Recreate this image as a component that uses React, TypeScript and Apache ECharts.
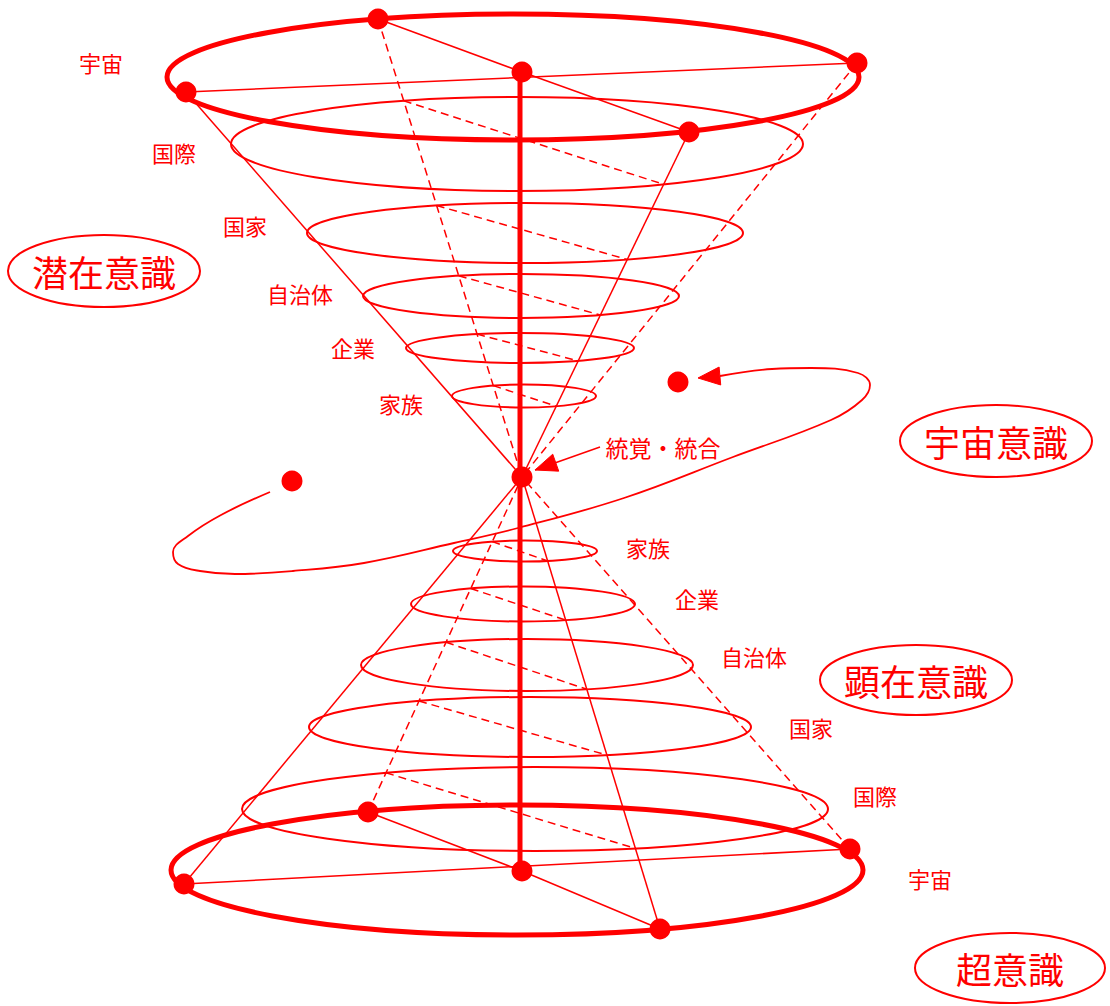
import React, { useEffect, useRef } from 'react';
import * as echarts from 'echarts';

const RED = '#ff0000';
const FONT = '"Noto Sans CJK JP", "Noto Sans CJK SC", sans-serif';

// ---- geometry data (in page pixels) ----
const apex = [522, 477];
const topCenter = [522, 72];
const bottomCenter = [522, 871];
const axisX = 520;

// big rims: [cx, cy, rx, ry]
const topRim = [513, 77, 346, 63];
const bottomRim = [517, 870, 346, 65];

// points on rims
const topLeft = [186, 92];
const topBack = [378, 19];
const topRight = [857, 63];
const topFront = [689, 132];
const bottomLeft = [184, 884];
const bottomBack = [368, 812];
const bottomRight = [850, 849];
const bottomFront = [660, 929];

// level rings [cx, cy, rx, ry] (家族 → 国際)
const ringNames = ['家族', '企業', '自治体', '国家', '国際'];
const upperRings = [
  [524, 396, 72, 11.5],
  [520, 348, 114, 15],
  [521, 296, 158, 22],
  [525, 233, 218, 30],
  [517, 144, 286, 47],
];
const lowerRings = [
  [525, 551, 72, 10.5],
  [523, 604, 112, 17.5],
  [527, 665, 166, 26],
  [530, 727, 221, 30],
  [535, 809, 293, 42],
];

// level labels (宇宙 + rings)
const upperLabelNames = ['宇宙', '国際', '国家', '自治体', '企業', '家族'];
const upperLabelPos = [[101, 62], [174, 152], [245, 225], [300, 293], [353, 347], [401, 403]];
const lowerLabelNames = ['家族', '企業', '自治体', '国家', '国際', '宇宙'];
const lowerLabelPos = [[648, 547], [697, 598], [754, 656], [811, 727], [875, 795], [930, 878]];

// oval captions
const ovalNames = ['潜在意識', '宇宙意識', '顕在意識', '超意識'];
const ovalShapes = [
  [104, 271, 96, 36],
  [996, 441, 96, 36],
  [916, 680, 96, 35],
  [1010, 968, 95, 35],
];

// orbit curve waypoints (from left dot round to arrow)
const orbitPoints = [
  [270, 492], [221, 515], [188, 536], [173, 552], [178, 564], [200, 571],
  [235, 574], [293, 571], [364, 563], [454, 543], [518, 528], [624, 498],
  [733, 457], [831, 420], [862, 400], [870, 385], [858, 373], [811, 368],
  [772, 369], [720, 376],
];
const orbitArrowTip = [698, 378];
const orbitArrowFrom = [720, 376];
const orbitDots = [[292, 481], [678, 382]];

// 統覚・統合 pointer
const pointerLabel = '統覚・統合';
const pointerLabelPos = [663, 447];
const pointerTail = [600, 447];
const pointerTip = [535, 470];

// ---- helpers ----
function lineEllipse(from: number[], to: number[], ring: number[], pickSmallerY: boolean) {
  const [cx, cy, rx, ry] = ring;
  const dx = to[0] - from[0];
  const dy = to[1] - from[1];
  const ox = from[0] - cx;
  const oy = from[1] - cy;
  const A = (dx * dx) / (rx * rx) + (dy * dy) / (ry * ry);
  const B = 2 * ((ox * dx) / (rx * rx) + (oy * dy) / (ry * ry));
  const C = (ox * ox) / (rx * rx) + (oy * oy) / (ry * ry) - 1;
  let disc = B * B - 4 * A * C;
  if (disc < 0) disc = 0;
  const s1 = (-B - Math.sqrt(disc)) / (2 * A);
  const s2 = (-B + Math.sqrt(disc)) / (2 * A);
  const p1 = [from[0] + s1 * dx, from[1] + s1 * dy];
  const p2 = [from[0] + s2 * dx, from[1] + s2 * dy];
  if (pickSmallerY) return p1[1] < p2[1] ? p1 : p2;
  return p1[1] > p2[1] ? p1 : p2;
}

export default function App() {
  const ref = useRef<HTMLDivElement>(null);

  useEffect(() => {
    if (!ref.current) return;
    const chart = echarts.init(ref.current, undefined, { renderer: 'svg' });

    // ellipses: [cx, cy, rx, ry, lineWidth]
    const ellipses: number[][] = [];
    ellipses.push([...topRim, 5]);
    ellipses.push([...bottomRim, 5]);
    upperRings.forEach((r) => ellipses.push([...r, 2]));
    lowerRings.forEach((r) => ellipses.push([...r, 2]));
    ovalShapes.forEach((r) => ellipses.push([...r, 2]));

    // segments: [x1, y1, x2, y2, dashed, width]
    const segs: number[][] = [];
    const seg = (a: number[], b: number[], dashed: number, w: number) =>
      segs.push([a[0], a[1], b[0], b[1], dashed, w]);
    seg(topLeft, apex, 0, 1.5);
    seg(topFront, apex, 0, 1.5);
    seg(topBack, apex, 1, 1.5);
    seg(topRight, apex, 1, 1.5);
    seg(topLeft, topRight, 0, 1.5);
    seg(topBack, topCenter, 0, 1.5);
    seg(topCenter, topFront, 0, 1.5);
    seg(bottomLeft, apex, 0, 1.5);
    seg(bottomFront, apex, 0, 1.5);
    seg(bottomBack, apex, 1, 1.5);
    seg(bottomRight, apex, 1, 1.5);
    seg(bottomLeft, bottomRight, 0, 1.5);
    seg(bottomBack, bottomCenter, 0, 1.5);
    seg(bottomCenter, bottomFront, 0, 1.5);
    upperRings.forEach((r) => {
      const b = lineEllipse(apex, topBack, r, true);
      const f = lineEllipse(apex, topFront, r, false);
      seg(b, f, 1, 1.5);
    });
    lowerRings.forEach((r) => {
      const b = lineEllipse(apex, bottomBack, r, true);
      const f = lineEllipse(apex, bottomFront, r, false);
      seg(b, f, 1, 1.5);
    });
    seg(pointerTail, pointerTip, 0, 1.5);
    seg([axisX, topCenter[1]], [axisX, bottomCenter[1]], 0, 5);

    // texts
    const texts: { text: string; pos: number[]; size: number }[] = [];
    upperLabelNames.forEach((t, i) => texts.push({ text: t, pos: upperLabelPos[i], size: 22 }));
    lowerLabelNames.forEach((t, i) => texts.push({ text: t, pos: lowerLabelPos[i], size: 22 }));
    ovalNames.forEach((t, i) => texts.push({ text: t, pos: [ovalShapes[i][0], ovalShapes[i][1]], size: 36 }));
    texts.push({ text: pointerLabel, pos: pointerLabelPos, size: 23 });

    // arrows: [tipX, tipY, fromX, fromY]
    const arrows = [
      [orbitArrowTip[0], orbitArrowTip[1], orbitArrowFrom[0], orbitArrowFrom[1]],
      [pointerTip[0], pointerTip[1], pointerTail[0], pointerTail[1]],
    ];

    const dots = [topLeft, topBack, topRight, topFront, topCenter, apex,
      bottomLeft, bottomBack, bottomRight, bottomFront, bottomCenter, ...orbitDots];

    const option: any = {
      animation: false,
      backgroundColor: '#ffffff',
      grid: { left: 0, right: 0, top: 0, bottom: 0 },
      xAxis: { type: 'value', min: 0, max: 1110, show: false },
      yAxis: { type: 'value', min: 0, max: 1006, inverse: true, show: false },
      series: [
        {
          type: 'custom',
          clip: false,
          z: 2,
          data: ellipses,
          renderItem: (params: any, api: any) => {
            const c = api.coord([api.value(0), api.value(1)]);
            const s = api.size([api.value(2), api.value(3)]);
            return {
              type: 'ellipse',
              shape: { cx: c[0], cy: c[1], rx: Math.abs(s[0]), ry: Math.abs(s[1]) },
              style: { fill: 'none', stroke: RED, lineWidth: api.value(4) },
            };
          },
        },
        {
          type: 'custom',
          clip: false,
          z: 3,
          data: segs,
          renderItem: (params: any, api: any) => {
            const a = api.coord([api.value(0), api.value(1)]);
            const b = api.coord([api.value(2), api.value(3)]);
            return {
              type: 'line',
              shape: { x1: a[0], y1: a[1], x2: b[0], y2: b[1] },
              style: {
                stroke: RED,
                lineWidth: api.value(5),
                lineDash: api.value(4) ? [8, 5] : null,
                fill: 'none',
              },
            };
          },
        },
        {
          type: 'line',
          z: 3,
          data: orbitPoints,
          smooth: 0.4,
          symbol: 'none',
          lineStyle: { color: RED, width: 1.8, opacity: 1 },
        },
        {
          type: 'custom',
          clip: false,
          z: 4,
          data: arrows,
          renderItem: (params: any, api: any) => {
            const t = api.coord([api.value(0), api.value(1)]);
            const f = api.coord([api.value(2), api.value(3)]);
            const dx = f[0] - t[0];
            const dy = f[1] - t[1];
            const L = Math.hypot(dx, dy) || 1;
            const ux = dx / L;
            const uy = dy / L;
            const len = 22;
            const hw = 9;
            const bx = t[0] + ux * len;
            const by = t[1] + uy * len;
            return {
              type: 'polygon',
              shape: {
                points: [
                  [t[0], t[1]],
                  [bx - uy * hw, by + ux * hw],
                  [bx + uy * hw, by - ux * hw],
                ],
              },
              style: { fill: RED, stroke: RED, lineWidth: 1 },
            };
          },
        },
        {
          type: 'scatter',
          z: 5,
          data: dots,
          symbol: 'circle',
          symbolSize: 21,
          itemStyle: { color: RED, opacity: 1 },
        },
        {
          type: 'custom',
          clip: false,
          z: 6,
          data: texts.map((t) => t.pos),
          renderItem: (params: any, api: any) => {
            const p = api.coord([api.value(0), api.value(1)]);
            const item = texts[params.dataIndex];
            return {
              type: 'text',
              x: p[0],
              y: p[1],
              style: {
                text: item.text,
                fill: RED,
                fontSize: item.size,
                fontFamily: FONT,
                align: 'center',
                verticalAlign: 'middle',
              },
            };
          },
        },
      ],
    };
    chart.setOption(option);
    return () => chart.dispose();
  }, []);

  return (
    <div
      ref={ref}
      style={{ position: 'fixed', left: 0, top: 0, width: '1110px', height: '1006px', background: '#fff' }}
    />
  );
}
